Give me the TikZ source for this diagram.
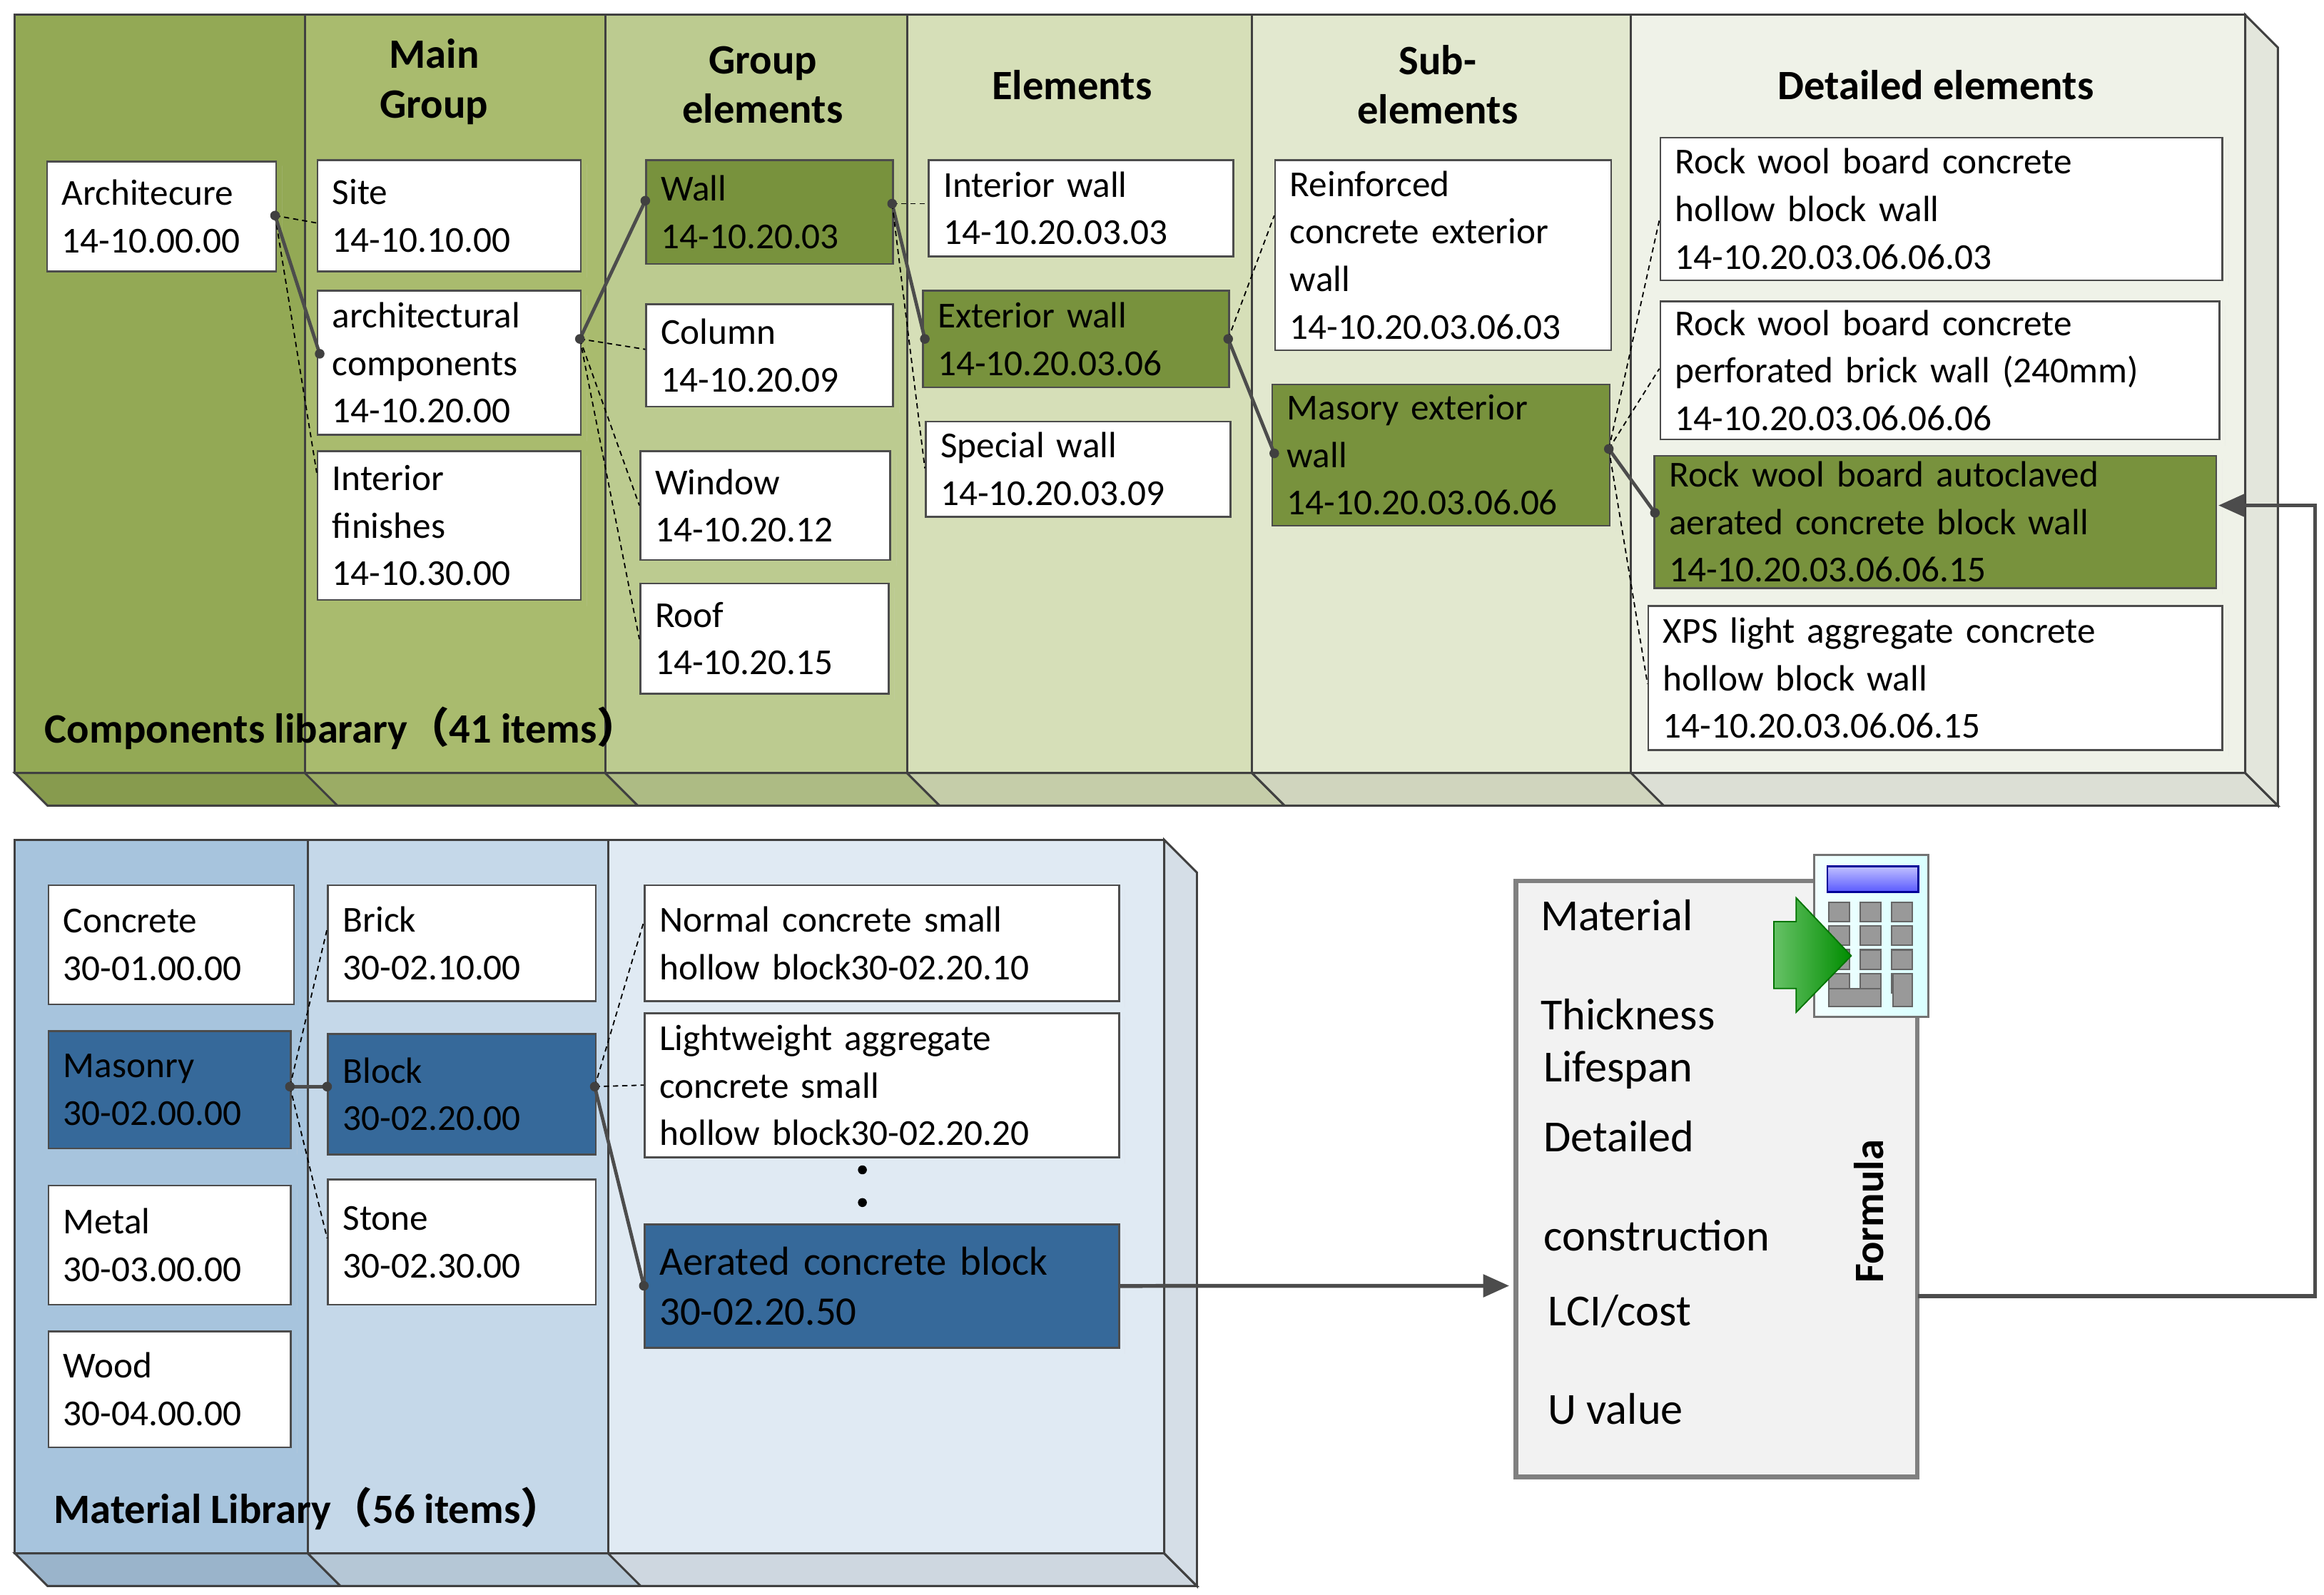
\documentclass[tikz,border=0pt]{standalone}
\usepackage{fontspec}
\setmainfont{Carlito}
\newfontfamily\cjk{Noto Sans CJK SC}
\usetikzlibrary{arrows.meta}
\definecolor{ga}{HTML}{93A955}\definecolor{gb}{HTML}{A9BB6E}\definecolor{gc}{HTML}{BCCB90}
\definecolor{gd}{HTML}{D6DFB8}\definecolor{ge}{HTML}{E2E8CF}\definecolor{gf}{HTML}{EFF2E8}
\definecolor{gbox}{HTML}{78923D}\definecolor{bbox}{HTML}{36699A}
\definecolor{ba}{HTML}{A7C4DD}\definecolor{bb}{HTML}{C5D8E9}\definecolor{bc}{HTML}{E0EAF3}
\tikzset{
 box/.style={draw=black!70,line width=0.7pt,fill=white,anchor=north west,align=left,inner xsep=0.2cm,inner ysep=0.05cm,
   font=\fontsize{14}{18.2}\selectfont},
 gr/.style={box,fill=gbox}, bl/.style={box,fill=bbox},
 hd/.style={font=\fontsize{16}{19}\selectfont\bfseries,align=center},
 sol/.style={draw=black!70,line width=1.3pt},
 dsh/.style={draw=black,line width=0.5pt,dash pattern=on 2pt off 1.5pt},
 dot/.style={circle,fill=black!75,inner sep=0pt,minimum size=0.13cm},
 pan/.style={draw=black!75,line width=0.8pt},
 arr/.style={draw=black!70,line width=1.5pt,-{Triangle[length=0.35cm,width=0.3cm]}},
 ft/.style={font=\fontsize{17}{20}\selectfont,anchor=west}
}
\newcommand\bx[7]{\node[#6,minimum width={(#4-#2)*0.02cm},minimum height={(#5-#3)*0.02cm},text width={(#4-#2)*0.02cm-0.4cm}] (#1) at (#2,#3) {#7};
 \fill[black!15] ([xshift=2pt,yshift=-2pt]#1.north east) rectangle ([xshift=2pt,yshift=-2pt]#1.south west -| #1.east);}
\begin{document}
\begin{tikzpicture}[x=0.02cm,y=-0.02cm]
\useasboundingbox (0,0) rectangle (1563,1073);
% top panel
\foreach \a/\b/\c in {10/205/ga,205/407/gb,407/610/gc,610/842/gd,842/1097/ge,1097/1510/gf}{
 \filldraw[pan,fill=\c] (\a,10) rectangle (\b,520);
 \filldraw[pan,fill=\c!92!black] (\a,520) -- (\b,520) -- (\b+22,542) -- (\a+22,542) -- cycle;}
\filldraw[pan,fill=gf!95!black] (1510,10) -- (1532,32) -- (1532,542) -- (1510,520) -- cycle;
% bottom panel
\foreach \a/\b/\c in {10/207/ba,207/409/bb,409/783/bc}{
 \filldraw[pan,fill=\c] (\a,565) rectangle (\b,1045);
 \filldraw[pan,fill=\c!92!black] (\a,1045) -- (\b,1045) -- (\b+22,1067) -- (\a+22,1067) -- cycle;}
\filldraw[pan,fill=bc!95!black] (783,565) -- (805,587) -- (805,1067) -- (783,1045) -- cycle;
% headers
\node[hd] (h1) at (292,55) {Main\\Group};
\node[hd] (h2) at (513,57) {Group\\elements};
\node[hd] (h3) at (721,57) {Elements};
\node[hd] (h4) at (967,57) {Sub-\\elements};
\node[hd] (h5) at (1302,57) {Detailed elements};
\node[hd,anchor=west] (t1) at (24,490) {Components libarary{\cjk （}41 items{\cjk ）}};
\node[hd,anchor=west] (t2) at (30,1015) {Material Library{\cjk （}56 items{\cjk ）}};
% boxes top
\bx{arch}{31}{108}{185}{182}{box}{Architecure\\14-10.00.00}
\bx{site}{213}{107}{390}{182}{box}{Site\\14-10.10.00}
\bx{ac}{213}{195}{390}{292}{box}{architectural\\components\\14-10.20.00}
\bx{inf}{213}{303}{390}{403}{box}{Interior\\finishes\\14-10.30.00}
\bx{wall}{434}{107}{600}{177}{gr}{Wall\\14-10.20.03}
\bx{col}{434}{204}{600}{273}{box}{Column\\14-10.20.09}
\bx{win}{430}{303}{598}{376}{box}{Window\\14-10.20.12}
\bx{roof}{430}{392}{597}{466}{box}{Roof\\14-10.20.15}
\bx{iw}{624}{107}{829}{172}{box}{Interior wall\\14-10.20.03.03}
\bx{ew}{620}{195}{826}{260}{gr}{Exterior wall\\14-10.20.03.06}
\bx{sw}{622}{283}{827}{347}{box}{Special wall\\14-10.20.03.09}
\bx{rc}{857}{107}{1083}{235}{box}{Reinforced\\concrete exterior\\wall\\14-10.20.03.06.03}
\bx{me}{855}{258}{1082}{353}{gr}{Masory exterior\\wall\\14-10.20.03.06.06}
\bx{d1}{1116}{92}{1494}{188}{box}{Rock wool board concrete\\hollow block wall\\14-10.20.03.06.06.03}
\bx{d2}{1116}{202}{1492}{295}{box}{Rock wool board concrete\\perforated brick wall (240mm)\\14-10.20.03.06.06.06}
\bx{d3}{1112}{306}{1490}{395}{gr}{Rock wool board autoclaved\\aerated concrete block wall\\14-10.20.03.06.06.15}
\bx{d4}{1108}{407}{1494}{504}{box}{XPS light aggregate concrete\\hollow block wall\\14-10.20.03.06.06.15}
% boxes bottom
\bx{conc}{32}{595}{197}{675}{box}{Concrete\\30-01.00.00}
\bx{mas}{32}{693}{195}{772}{bl}{Masonry\\30-02.00.00}
\bx{met}{32}{797}{195}{877}{box}{Metal\\30-03.00.00}
\bx{wood}{32}{895}{195}{973}{box}{Wood\\30-04.00.00}
\bx{brick}{220}{595}{400}{673}{box}{Brick\\30-02.10.00}
\bx{block}{220}{695}{400}{776}{bl}{Block\\30-02.20.00}
\bx{stone}{220}{793}{400}{877}{box}{Stone\\30-02.30.00}
\bx{ncs}{433}{595}{752}{673}{box}{Normal concrete small\\hollow block30-02.20.10}
\bx{lac}{433}{681}{752}{778}{box}{Lightweight aggregate\\concrete small\\hollow block30-02.20.20}
\bx{acb}{433}{823}{752}{906}{bl,font=\fontsize{15.5}{19}\selectfont}{Aerated concrete block\\30-02.20.50}
\fill (580,787) circle (0.06cm) (580,809) circle (0.06cm);
% connectors top
\coordinate (p1) at (185,145); \coordinate (p2) at (215,238);
\draw[dsh] (p1) -- (213,150); \draw[dsh] (p1) -- (213,318); \draw[sol] (p1) -- (p2);
\coordinate (p3) at (390,228); \coordinate (p4) at (434,135);
\draw[sol] (p3) -- (p4); \draw[dsh] (p3) -- (434,235); \draw[dsh] (p3) -- (430,340); \draw[dsh] (p3) -- (430,430);
\coordinate (p5) at (600,137); \coordinate (p6) at (622,228);
\draw[dsh] (p5) -- (624,137); \draw[sol] (p5) -- (p6); \draw[dsh] (p5) -- (622,315);
\coordinate (p7) at (826,228); \coordinate (p8) at (857,305);
\draw[dsh] (p7) -- (857,145); \draw[sol] (p7) -- (p8);
\coordinate (p9) at (1082,302); \coordinate (p10) at (1113,345);
\draw[dsh] (p9) -- (1116,148); \draw[dsh] (p9) -- (1116,248); \draw[sol] (p9) -- (p10); \draw[dsh] (p9) -- (1108,460);
\foreach \p in {p1,p2,p3,p4,p5,p6,p7,p8,p9,p10} \node[dot] at (\p) {};
% connectors bottom
\coordinate (q1) at (195,731); \coordinate (q2) at (220,731);
\draw[sol] (q1) -- (q2); \draw[dsh] (q1) -- (220,625); \draw[dsh] (q1) -- (220,833);
\coordinate (q3) at (400,731); \coordinate (q4) at (433,865);
\draw[dsh] (q3) -- (433,620); \draw[dsh] (q3) -- (433,730); \draw[sol] (q3) -- (q4);
\foreach \p in {q1,q2,q3,q4} \node[dot] at (\p) {};
% formula box
\node[draw=black!50,line width=1.8pt,fill=black!5,anchor=north west,minimum width=5.4cm,minimum height=8.02cm,inner sep=0pt] (fb) at (1018,591) {};
\node[ft] (f1) at (1030,649) {\parbox{4cm}{\fontsize{17}{38}\selectfont Material\\Thickness}};
\node[ft] (f2) at (1032,720) {Lifespan};
\node[ft] (f3) at (1032,798) {\parbox{4cm}{\fontsize{17}{38}\selectfont Detailed\\construction}};
\node[ft] (f4) at (1035,882) {LCI/cost};
\node[ft] (f5) at (1035,948) {U value};
\node[font=\fontsize{16}{19}\selectfont\bfseries,rotate=90] (f6) at (1257,815) {Formula};
% calculator
\shade[left color=cyan!5,right color=cyan!15,draw=black!55,line width=0.8pt] (1220,575) rectangle (1297,684);
\shade[top color=blue!25,bottom color=blue!65,draw=blue!60!black,line width=0.8pt] (1229,583) rectangle (1290,600);
\foreach \i in {0,1,2}\foreach \j in {0,1,2,3}
 \filldraw[fill=black!40,draw=black!60,line width=0.6pt] (1230+\i*21,607+\j*16) rectangle (1244+\i*21,620+\j*16);
\filldraw[fill=black!40,draw=black!60,line width=0.6pt] (1230,665) rectangle (1265,677);
\filldraw[fill=black!40,draw=black!60,line width=0.6pt] (1273,655) rectangle (1286,677);
\shade[left color=green!60!black!60!white,right color=green!55!black,draw=green!45!black,line width=0.5pt]
 (1193,620) -- (1208,620) -- (1208,604) -- (1245,643) -- (1208,681) -- (1208,665) -- (1193,665) -- cycle;
% arrows
\draw[arr] (acb.east) -- (1015,865);
\coordinate (r1) at (1557,872); \coordinate (r2) at (1557,340);
\draw[arr] (1290,872) -- (r1) -- (r2) -- (1492,340);
\end{tikzpicture}
\end{document}
